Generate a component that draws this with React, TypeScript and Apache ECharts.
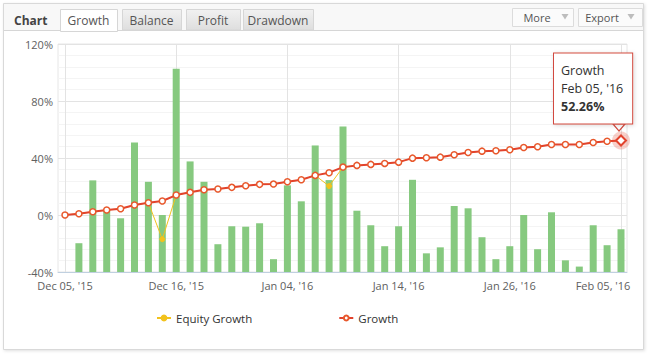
import React, { useEffect, useRef } from "react";
import * as echarts from "echarts";

const dates: string[] = [
  "Dec 05, '15", "Dec 07, '15", "Dec 08, '15", "Dec 09, '15", "Dec 10, '15", "Dec 11, '15", "Dec 14, '15", "Dec 15, '15",
  "Dec 16, '15", "Dec 17, '15", "Dec 18, '15", "Dec 21, '15", "Dec 22, '15", "Dec 23, '15", "Dec 28, '15", "Dec 30, '15",
  "Jan 04, '16", "Jan 05, '16", "Jan 06, '16", "Jan 07, '16", "Jan 08, '16", "Jan 11, '16", "Jan 12, '16", "Jan 13, '16",
  "Jan 14, '16", "Jan 15, '16", "Jan 18, '16", "Jan 19, '16", "Jan 20, '16", "Jan 21, '16", "Jan 22, '16", "Jan 25, '16",
  "Jan 26, '16", "Jan 27, '16", "Jan 28, '16", "Jan 29, '16", "Feb 01, '16", "Feb 02, '16", "Feb 03, '16", "Feb 04, '16",
  "Feb 05, '16",
];

const growth: number[] = [
  0, 0.9, 2.3, 3.5, 4.4, 7.0, 8.6, 9.8, 14.0, 15.9, 17.7, 18.2, 19.4, 20.5, 21.5, 21.7,
  23.3, 24.7, 27.8, 29.7, 33.6, 34.8, 35.5, 36.2, 37.1, 39.9, 40.2, 40.6, 42.3, 43.9, 44.8, 45.1,
  45.8, 47.4, 47.9, 49.5, 49.5, 49.5, 50.9, 51.8, 52.26,
];

const equityGrowth: number[] = [
  0, 0.9, 2.3, 3.5, 4.4, 7.0, 8.6, -17.0, 14.0, 15.9, 17.7, 18.2, 19.4, 20.5, 21.5, 21.7,
  23.3, 24.7, 27.8, 20.3, 33.6, 34.8, 35.5, 36.2, 37.1, 39.9, 40.2, 40.6, 42.3, 43.9, 44.8, 45.1,
  45.8, 47.4, 47.9, 49.5, 49.5, 49.5, 50.9, 51.8, 52.26,
];

const barTops: (number | null)[] = [
  null, -19.8, 24.3, 2.8, -2.3, 50.9, 23.3, 0, 102.7, 37.6, 23.3, -20.5, -7.9, -8.2, -5.8, -31.0,
  20.8, 9.6, 48.8, 24.5, 62.1, 3.0, -7.2, -21.9, -7.9, 24.7, -26.9, -22.7, 6.3, 4.7, -15.6, -31.0,
  -21.9, 0, -24.0, 1.9, -31.8, -36.2, -7.2, -21.2, -10.0,
];

const yTicks: number[] = [-40, 0, 40, 80, 120];
const tabs: string[] = ["Growth", "Balance", "Profit", "Drawdown"];

const Y_MIN = yTicks[0];
const Y_MAX = yTicks[yTicks.length - 1];
const Y_STEP = yTicks[1] - yTicks[0];
const LABEL_STEP = 8;
const LAST = dates.length - 1;
const FONT = "'Open Sans', 'DejaVu Sans', sans-serif";
const RED = "#e2432d";
const YELLOW = "#f2c21d";

export default function App() {
  const ref = useRef<HTMLDivElement>(null);

  useEffect(() => {
    if (!ref.current) return;
    const chart = echarts.init(ref.current, undefined, { renderer: "svg" });

    const tabX = [60, 122, 186, 243];
    const tabW = [57, 59, 54, 70];
    const tabGraphics: any[] = [];
    tabs.forEach((t, i) => {
      const active = i === 0;
      tabGraphics.push({
        type: "rect",
        z: -5,
        shape: { x: tabX[i] + 0.5, y: 9.5, width: tabW[i], height: active ? 22 : 20.5 },
        style: {
          fill: active
            ? "#ffffff"
            : new echarts.graphic.LinearGradient(0, 0, 0, 1, [
                { offset: 0, color: "#f1f1f1" },
                { offset: 1, color: "#dedede" },
              ]),
          stroke: "#d6d6d6",
          lineWidth: 1,
        },
      });
      tabGraphics.push({
        type: "text",
        z: -4,
        x: tabX[i] + tabW[i] / 2,
        y: 20.5,
        style: {
          text: t,
          fill: "#555",
          font: `12px ${FONT}`,
          align: "center",
          verticalAlign: "middle",
        },
      });
    });

    const buttons = [
      { label: "More", x: 512, w: 61, tx: 537, ax: 565 },
      { label: "Export", x: 578, w: 64, tx: 602, ax: 631 },
    ];
    const buttonGraphics: any[] = [];
    buttons.forEach((b) => {
      buttonGraphics.push({
        type: "rect",
        z: -5,
        shape: { x: b.x + 0.5, y: 8.5, width: b.w, height: 18 },
        style: { fill: "#fbfbfb", stroke: "#dcdcdc", lineWidth: 1 },
      });
      buttonGraphics.push({
        type: "text",
        z: -4,
        x: b.tx,
        y: 17.5,
        style: { text: b.label, fill: "#555", font: `11px ${FONT}`, align: "center", verticalAlign: "middle" },
      });
      buttonGraphics.push({
        type: "polygon",
        z: -4,
        shape: { points: [[b.ax - 3.5, 14], [b.ax + 3.5, 14], [b.ax, 19.5]] },
        style: { fill: "#bdbdbd" },
      });
    });

    const option: any = {
      animation: false,
      textStyle: { fontFamily: FONT },
      graphic: [
        {
          type: "rect",
          z: -10,
          shape: { x: 3.5, y: 3.5, width: 640, height: 346 },
          style: {
            fill: "#ffffff",
            stroke: "#d9d9d9",
            lineWidth: 1,
            shadowBlur: 3,
            shadowOffsetX: 1,
            shadowOffsetY: 1,
            shadowColor: "rgba(0,0,0,0.12)",
          },
        },
        {
          type: "rect",
          z: -9,
          shape: { x: 4, y: 4, width: 639, height: 27 },
          style: { fill: "#f8f8f8" },
        },
        {
          type: "line",
          z: -8,
          shape: { x1: 4, y1: 30.5, x2: 643, y2: 30.5 },
          style: { stroke: "#d6d6d6", lineWidth: 1 },
        },
        {
          type: "text",
          z: -4,
          x: 14,
          y: 20,
          style: { text: "Chart", fill: "#444", font: `bold 12px ${FONT}`, verticalAlign: "middle" },
        },
        ...tabGraphics,
        ...buttonGraphics,
      ],
      grid: [
        {
          left: 58,
          top: 44,
          width: 569,
          height: 228,
          show: true,
          borderColor: "#e6e6e6",
          borderWidth: 1,
          backgroundColor: "transparent",
        },
        {
          left: 65,
          top: 44,
          width: 556,
          height: 228,
        },
      ],
      legend: {
        data: ["Equity Growth", "Growth"],
        left: 151,
        top: 307,
        itemWidth: 14,
        itemHeight: 6,
        itemGap: 86,
        textStyle: { color: "#333", fontSize: 11.5, fontFamily: FONT },
      },
      xAxis: [
        {
          gridIndex: 0,
          type: "value",
          min: 0,
          max: 1,
          axisLine: { show: true, onZero: false, lineStyle: { color: "#c0d0e0" } },
          axisTick: { show: false },
          axisLabel: { show: false },
          splitLine: { show: false },
        },
        {
          gridIndex: 1,
          type: "category",
          data: dates,
          boundaryGap: false,
          axisLine: { show: false },
          axisTick: { show: false },
          splitLine: { show: true, interval: LABEL_STEP - 1, lineStyle: { color: "#e3e3e3" } },
          axisLabel: {
            interval: LABEL_STEP - 1,
            color: "#606060",
            fontSize: 11,
            margin: 8,
            formatter: (v: string, i: number) => (i === LAST ? `{last|${v}}` : v),
            rich: {
              last: { padding: [0, 36, 0, 0], color: "#606060", fontSize: 11, fontFamily: FONT },
            },
          },
        },
      ],
      yAxis: [
        {
          gridIndex: 0,
          type: "value",
          min: Y_MIN,
          max: Y_MAX,
          interval: Y_STEP,
          axisLine: { show: false },
          axisTick: { show: false },
          axisLabel: { show: false },
          splitLine: { lineStyle: { color: "#e3e3e3" } },
          minorTick: { show: false, splitNumber: 5 },
          minorSplitLine: { show: true, lineStyle: { color: "#f4f4f4" } },
        },
        {
          gridIndex: 1,
          type: "value",
          min: Y_MIN,
          max: Y_MAX,
          interval: Y_STEP,
          axisLine: { show: false },
          axisTick: { show: false },
          axisLabel: { formatter: "{value}%", color: "#606060", fontSize: 11, margin: 12 },
          splitLine: { show: false },
        },
        {
          gridIndex: 1,
          type: "value",
          min: 0,
          max: Y_MAX - Y_MIN,
          show: false,
          splitLine: { show: false },
        },
      ],
      series: [
        {
          name: "Bars",
          type: "bar",
          xAxisIndex: 1,
          yAxisIndex: 2,
          z: 2,
          barWidth: 7,
          clip: false,
          silent: true,
          itemStyle: { color: "#86c97f" },
          data: barTops.map((v) => (v === null ? null : v - Y_MIN)),
        },
        {
          name: "Equity Growth",
          type: "line",
          xAxisIndex: 1,
          yAxisIndex: 1,
          z: 3,
          clip: false,
          data: equityGrowth,
          color: YELLOW,
          lineStyle: { color: YELLOW, width: 1 },
          symbol: "circle",
          symbolSize: 5,
          showAllSymbol: true,
          itemStyle: { color: YELLOW, borderColor: YELLOW, borderWidth: 1 },
        },
        {
          name: "Growth",
          type: "line",
          xAxisIndex: 1,
          yAxisIndex: 1,
          z: 4,
          clip: false,
          data: growth,
          color: RED,
          lineStyle: { color: RED, width: 2 },
          symbol: "circle",
          symbolSize: 6,
          showAllSymbol: true,
          itemStyle: { color: "#ffffff", borderColor: "#e8582c", borderWidth: 1.5 },
          markPoint: {
            silent: true,
            data: [
              {
                coord: [dates[LAST], growth[LAST]],
                symbol: "circle",
                symbolSize: 18,
                itemStyle: { color: "rgba(226,67,45,0.25)", borderWidth: 0 },
                label: { show: false },
              },
              {
                coord: [dates[LAST], growth[LAST]],
                symbol: "diamond",
                symbolSize: 10,
                itemStyle: { color: "#ffffff", borderColor: RED, borderWidth: 2 },
                label: { show: false },
              },
              {
                coord: [dates[LAST], growth[LAST]],
                symbol: "triangle",
                symbolRotate: 180,
                symbolSize: [12, 7],
                symbolOffset: [-2, -13],
                itemStyle: { color: "#ffffff", borderColor: "#d24a3f", borderWidth: 1 },
                label: { show: false },
              },
              {
                coord: [dates[LAST], growth[LAST]],
                symbol: "rect",
                symbolSize: 1,
                itemStyle: { color: "rgba(0,0,0,0)" },
                label: {
                  show: true,
                  position: "inside",
                  offset: [-67, -52],
                  formatter: `{hd|Growth}\n{hd|${dates[LAST]}}\n{val|${growth[LAST].toFixed(2)}%}`,
                  backgroundColor: "#ffffff",
                  borderColor: "#d24a3f",
                  borderWidth: 1,
                  padding: [8, 9, 8, 7],
                  shadowBlur: 4,
                  shadowOffsetX: 1,
                  shadowOffsetY: 1,
                  shadowColor: "rgba(0,0,0,0.15)",
                  align: "left",
                  rich: {
                    hd: { fontSize: 12.5, color: "#333", lineHeight: 18, fontFamily: FONT },
                    val: { fontSize: 12.5, color: "#333", fontWeight: "bold", lineHeight: 18, fontFamily: FONT },
                  },
                },
              },
            ],
          },
        },
      ],
    };

    chart.setOption(option);
    return () => chart.dispose();
  }, []);

  return (
    <div
      ref={ref}
      style={{ position: "absolute", left: 0, top: 0, width: 649, height: 355, background: "#fff" }}
    />
  );
}
